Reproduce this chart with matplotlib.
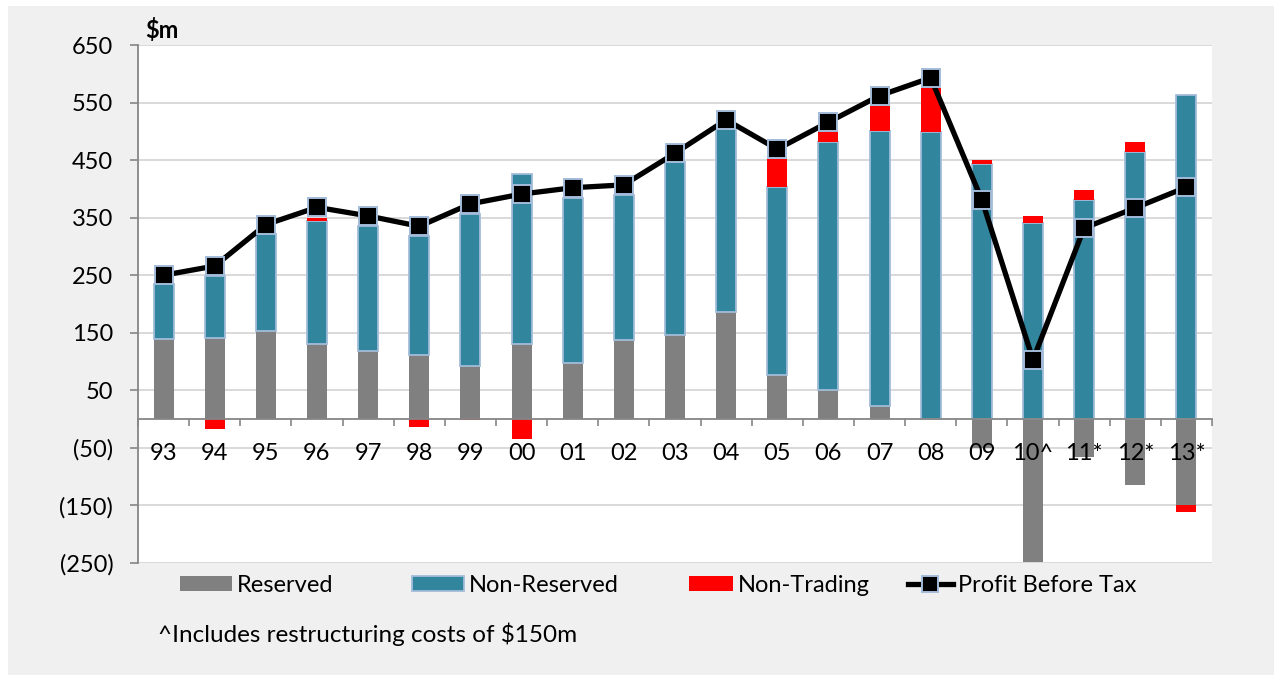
import matplotlib.pyplot as plt
import numpy as np
from matplotlib.lines import Line2D
from matplotlib.patches import Patch, Rectangle

YEARS = ["93", "94", "95", "96", "97", "98", "99", "00", "01", "02", "03",
         "04", "05", "06", "07", "08", "09", "10^", "11*", "12*", "13*"]

RESERVED = [140, 141, 153, 131, 118, 112, 93, 131, 98, 138, 147,
            186, 77, 51, 22, 0, -50, -249, -66, -115, -149]
NON_RESERVED = [94, 107, 168, 213, 218, 206, 263, 294, 287, 252, 299,
                318, 327, 431, 479, 498, 443, 341, 380, 464, 563]
NON_TRADING = [0, -17, 0, 6, 0, -14, -1, -35, 0, 0, 0,
               0, 48, 18, 43, 77, 7, 12, 18, 17, -12]
PROFIT_BEFORE_TAX = [250, 266, 338, 368, 353, 335, 374, 391, 402, 407, 462,
                     520, 469, 516, 562, 593, 381, 103, 332, 367, 403]

Y_TICKS = [650, 550, 450, 350, 250, 150, 50, -50, -150, -250]

GREY = "#808080"
TEAL = "#31859C"
RED = "#FF0000"
EDGE = "#A3BCDA"
FONT = ["Lato", "DejaVu Sans"]


def fmt(v):
    return f"({abs(v)})" if v < 0 else f"{v}"


def main():
    plt.rcParams["font.family"] = FONT
    fig = plt.figure(figsize=(12.74, 6.75), dpi=100)
    fig.patch.set_facecolor("white")
    fig.patches.append(Rectangle((8 / 1274, 0), 1, 1 - 6 / 675,
                                 transform=fig.transFigure,
                                 facecolor="#F0F0F0", edgecolor="none", zorder=-10))

    ax = fig.add_axes([138 / 1274, 1 - 563 / 675, 1074 / 1274, 518 / 675])
    ax.set_facecolor("white")

    x = np.arange(len(YEARS))
    width = 0.39
    pos_bottom = np.zeros(len(YEARS))
    neg_bottom = np.zeros(len(YEARS))

    for values, color, edge, lw in [
        (RESERVED, GREY, "none", 0),
        (NON_RESERVED, TEAL, EDGE, 1.3),
        (NON_TRADING, RED, "none", 0),
    ]:
        vals = np.array(values, dtype=float)
        bottoms = np.where(vals >= 0, pos_bottom, neg_bottom)
        ax.bar(x, vals, width, bottom=bottoms, color=color,
               edgecolor=edge, linewidth=lw, zorder=2)
        pos_bottom += np.where(vals > 0, vals, 0)
        neg_bottom += np.where(vals < 0, vals, 0)

    ax.plot(x, PROFIT_BEFORE_TAX, color="black", linewidth=3.8,
            marker="s", markersize=13, markerfacecolor="black",
            markeredgecolor=EDGE, markeredgewidth=1.4, zorder=4)

    ax.set_xlim(-0.5, len(YEARS) - 0.5)
    ax.set_ylim(-250, 650)
    ax.set_yticks(Y_TICKS)
    ax.set_yticklabels([fmt(v) for v in Y_TICKS], fontsize=17)
    ax.tick_params(axis="y", length=5.8, width=1.2, color="#868686", pad=12)
    ax.yaxis.grid(True, color="#D9D9D9", linewidth=1.4)
    ax.set_axisbelow(True)

    ax.spines["bottom"].set_position(("data", 0))
    ax.spines["bottom"].set_color("#868686")
    ax.spines["bottom"].set_linewidth(1.3)
    ax.spines["bottom"].set_zorder(3)
    ax.spines["left"].set_color("#868686")
    ax.spines["left"].set_linewidth(1.3)
    ax.spines["top"].set_visible(False)
    ax.spines["right"].set_visible(False)

    ax.set_xticks(np.arange(len(YEARS) + 1) - 0.5)
    ax.set_xticklabels([])
    ax.tick_params(axis="x", which="major", length=5, width=1.2, color="#868686")

    # category labels sit over the negative bars, so draw them as text on top
    for i, label in enumerate(YEARS):
        ax.annotate(label, xy=(i, 0), xytext=(0, -34), textcoords="offset pixels",
                    ha="center", va="center", fontsize=17, zorder=6)

    fig.text(145 / 1274, 1 - 30 / 675, "$m", fontsize=17, fontweight="bold",
             ha="left", va="center")

    entries = [
        (Patch(facecolor=GREY, edgecolor="none"), "Reserved", 180, 2.2),
        (Patch(facecolor=TEAL, edgecolor=EDGE, linewidth=1.3), "Non-Reserved", 412, 2.2),
        (Patch(facecolor=RED, edgecolor="none"), "Non-Trading", 689, 1.85),
        (Line2D([], [], color="black", linewidth=3.8, marker="s", markersize=11,
                markerfacecolor="black", markeredgecolor=EDGE, markeredgewidth=1.4),
         "Profit Before Tax", 908, 1.9),
    ]
    for handle, label, left, hlen in entries:
        fig.legend([handle], [label], loc="center left",
                   bbox_to_anchor=(left / 1274, 1 - 585 / 675), frameon=False,
                   fontsize=17, handlelength=hlen, handleheight=0.6,
                   handletextpad=0.2, borderpad=0, borderaxespad=0)

    fig.text(158 / 1274, 1 - 634 / 675, "^Includes restructuring costs of $150m",
             fontsize=17.5, ha="left", va="center")

    fig.savefig("out.png", dpi=100, facecolor=fig.get_facecolor())
    plt.close(fig)


if __name__ == "__main__":
    main()
